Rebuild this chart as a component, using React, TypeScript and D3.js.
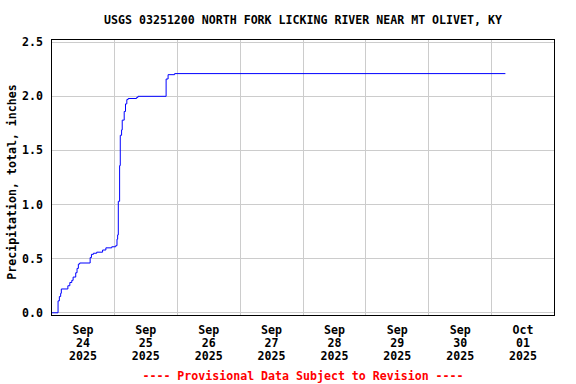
import React from "react";
import * as d3 from "d3";

const TITLE = "USGS 03251200 NORTH FORK LICKING RIVER NEAR MT OLIVET, KY";
const Y_LABEL = "Precipitation, total, inches";
const FOOTER = "---- Provisional Data Subject to Revision ----";

const times = [
  "2025-09-24T00:00", "2025-09-24T02:30", "2025-09-24T03:00", "2025-09-24T03:30",
  "2025-09-24T03:45", "2025-09-24T06:15", "2025-09-24T07:00", "2025-09-24T07:45",
  "2025-09-24T08:15", "2025-09-24T09:15", "2025-09-24T09:45", "2025-09-24T10:15",
  "2025-09-24T10:45", "2025-09-24T14:45", "2025-09-24T15:15", "2025-09-24T16:00",
  "2025-09-24T17:15", "2025-09-24T19:30", "2025-09-24T20:45", "2025-09-24T23:00",
  "2025-09-25T00:30", "2025-09-25T01:00", "2025-09-25T01:15", "2025-09-25T01:30",
  "2025-09-25T02:00", "2025-09-25T02:15", "2025-09-25T02:45", "2025-09-25T03:00",
  "2025-09-25T03:45", "2025-09-25T04:15", "2025-09-25T04:45", "2025-09-25T05:15",
  "2025-09-25T08:30", "2025-09-25T09:00", "2025-09-25T19:45", "2025-09-25T20:30",
  "2025-09-25T23:00", "2025-10-01T05:15",
];
const values = [
  0.0, 0.11, 0.15, 0.18,
  0.22, 0.25, 0.28, 0.3,
  0.33, 0.37, 0.41, 0.45,
  0.46, 0.51, 0.54, 0.55,
  0.56, 0.58, 0.6, 0.61,
  0.62, 0.68, 0.72, 1.03,
  1.36, 1.64, 1.69, 1.78,
  1.86, 1.93, 1.97, 1.98,
  1.99, 2.0, 2.16, 2.2,
  2.21, 2.21,
];

const yTicks = [0, 0.5, 1.0, 1.5, 2.0, 2.5];
const dayLabels = [
  ["Sep", "24", "2025"], ["Sep", "25", "2025"], ["Sep", "26", "2025"], ["Sep", "27", "2025"],
  ["Sep", "28", "2025"], ["Sep", "29", "2025"], ["Sep", "30", "2025"], ["Oct", "01", "2025"],
];
const X_START = "2025-09-24T00:00";
const X_END = "2025-10-02T00:00";

const FONT = "'DejaVu Sans Mono', monospace";

export default function App() {
  const W = 576, H = 384;
  const left = 51.5, right = 554.5, top = 39.5, bottom = 315.5;
  const parse = (s: string) => new Date(s);
  const x = d3.scaleTime().domain([parse(X_START), parse(X_END)]).range([left, right]);
  const y = d3.scaleLinear().domain([-0.025, 2.525]).range([bottom, top]);
  const data = times.map((t, i) => ({ t: parse(t), v: values[i] }));
  const line = d3.line<{ t: Date; v: number }>()
    .x(d => x(d.t))
    .y(d => y(d.v))
    .curve(d3.curveStepAfter);
  const days = d3.timeDay.range(parse(X_START), parse(X_END));
  const midnights = days.slice(1);
  const snap = (v: number) => Math.round(v - 0.5) + 0.5;

  return (
    <svg width={W} height={H} style={{ position: "absolute", left: 0, top: 0, background: "#fff" }}>
      <rect x={0} y={0} width={W} height={H} fill="#fff" />
      <text x={(left + right) / 2} y={24} textAnchor="middle" fontFamily={FONT} fontWeight="bold" fontSize={11.6} fill="#000">
        {TITLE}
      </text>
      {yTicks.map(t => (
        <line key={"hy" + t} x1={left} x2={right} y1={snap(y(t))} y2={snap(y(t))} stroke="#cccccc" strokeWidth={1} />
      ))}
      {midnights.map((d, i) => (
        <line key={"vx" + i} x1={snap(x(d))} x2={snap(x(d))} y1={top} y2={bottom} stroke="#cccccc" strokeWidth={1} />
      ))}
      <path d={line(data) || ""} fill="none" stroke="#0000ff" strokeWidth={1} />
      <rect x={left} y={top} width={right - left} height={bottom - top} fill="none" stroke="#000" strokeWidth={1} />
      {yTicks.map(t => (
        <text key={"yl" + t} x={43} y={y(t) + 4} textAnchor="end" fontFamily={FONT} fontWeight="bold" fontSize={11.6} fill="#000">
          {t.toFixed(1)}
        </text>
      ))}
      <text transform={`translate(15.5, 182) rotate(-90)`} textAnchor="middle" fontFamily={FONT} fontWeight="bold" fontSize={11.6} fill="#000">
        {Y_LABEL}
      </text>
      {days.map((d, i) => {
        const cx = x(d3.timeHour.offset(d, 12));
        return (
          <text key={"xl" + i} textAnchor="middle" fontFamily={FONT} fontWeight="bold" fontSize={11.6} fill="#000">
            <tspan x={cx} y={334}>{dayLabels[i][0]}</tspan>
            <tspan x={cx} y={347}>{dayLabels[i][1]}</tspan>
            <tspan x={cx} y={360}>{dayLabels[i][2]}</tspan>
          </text>
        );
      })}
      <text x={(left + right) / 2} y={380} textAnchor="middle" fontFamily={FONT} fontWeight="bold" fontSize={11.6} fill="#ff0000">
        {FOOTER}
      </text>
    </svg>
  );
}
